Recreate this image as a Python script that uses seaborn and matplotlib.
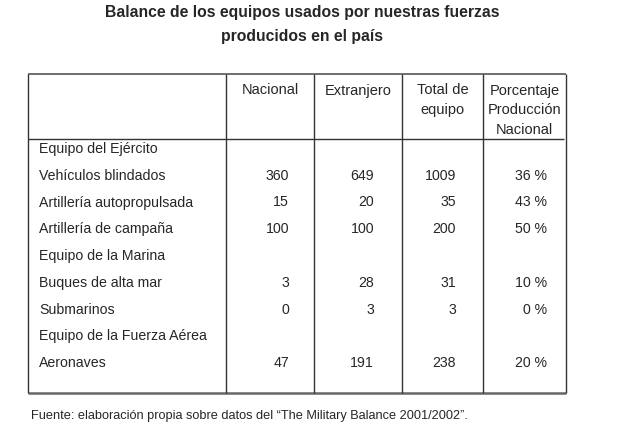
import numpy as np
import pandas as pd
import matplotlib
matplotlib.use("Agg")
import matplotlib.pyplot as plt
import seaborn as sns

# data
title_lines = ["Balance de los equipos usados por nuestras fuerzas",
               "producidos en el país"]
headers = ["Nacional", "Extranjero", "Total de\nequipo",
           "Porcentaje\nProducción\nNacional"]
sections = ["Equipo del Ejército", "Equipo de la Marina",
            "Equipo de la Fuerza Aérea"]
items = ["Vehículos blindados", "Artillería autopropulsada",
         "Artillería de campaña", "Buques de alta mar", "Submarinos",
         "Aeronaves"]
item_section = [0, 0, 0, 1, 1, 2]
nacional = [360, 15, 100, 3, 0, 47]
extranjero = [649, 20, 100, 28, 3, 191]
total = [1009, 35, 200, 31, 3, 238]
porcentaje = [36, 43, 50, 10, 0, 20]
fuente = ("Fuente: elaboración propia sobre datos del "
          "\u201cThe Military Balance 2001/2002\u201d.")

df = pd.DataFrame({"item": items, "section": item_section,
                   "Nacional": nacional, "Extranjero": extranjero,
                   "Total": total, "Pct": porcentaje})

# build the row list (section headings interleaved)
rows = []
for s, name in enumerate(sections):
    rows.append((name, None))
    for _, r in df[df["section"] == s].iterrows():
        rows.append((r["item"], [f"{r['Nacional']}", f"{r['Extranjero']}",
                                 f"{r['Total']}", f"{r['Pct']} %"]))

sns.set_style("white")
plt.rcParams["font.family"] = ["Liberation Sans", "DejaVu Sans"]

# layout in pixel units
col_edges = [28, 226, 314, 402, 483, 566]
num_right = [289, 374, 456, 547]
top, head_line, bottom = 74, 139, 393
row_y0, row_step = 149, 26.75
line_c = "#333333"
fs = 10.2

fig = plt.figure(figsize=(6.4, 4.46), dpi=100)
ax = fig.add_axes([0, 0, 1, 1])
ax.set_xlim(0, 640)
ax.set_ylim(446, 0)
ax.axis("off")

for i, t in enumerate(title_lines):
    ax.text(302, 13 + 24 * i, t, ha="center", va="center",
            fontsize=11.3, fontweight="bold")

# table frame
ax.hlines(top, col_edges[0], col_edges[-1], color="#555555", lw=1.2)
ax.hlines(bottom, col_edges[0], col_edges[-1], color="#666666", lw=1.8)
ax.hlines(head_line, col_edges[0], col_edges[-1] - 2, color=line_c, lw=1.0)
ax.vlines(col_edges, top, bottom, color=line_c, lw=1.0)

# headers
for j, h in enumerate(headers):
    cx = (col_edges[j + 1] + col_edges[j + 2]) / 2
    for k, part in enumerate(h.split("\n")):
        ax.text(cx, 90.5 + 19.7 * k, part, ha="center", va="center",
                fontsize=fs + 0.3)

# body
for i, (label, vals) in enumerate(rows):
    y = row_y0 + row_step * i
    ax.text(39, y, label, ha="left", va="center", fontsize=fs)
    if vals is None:
        continue
    for j, v in enumerate(vals):
        ax.text(num_right[j], y, v, ha="right", va="center", fontsize=fs)

ax.text(31, 416, fuente, ha="left", va="center", fontsize=9.2)

fig.savefig("out.png", dpi=100, facecolor="white")
